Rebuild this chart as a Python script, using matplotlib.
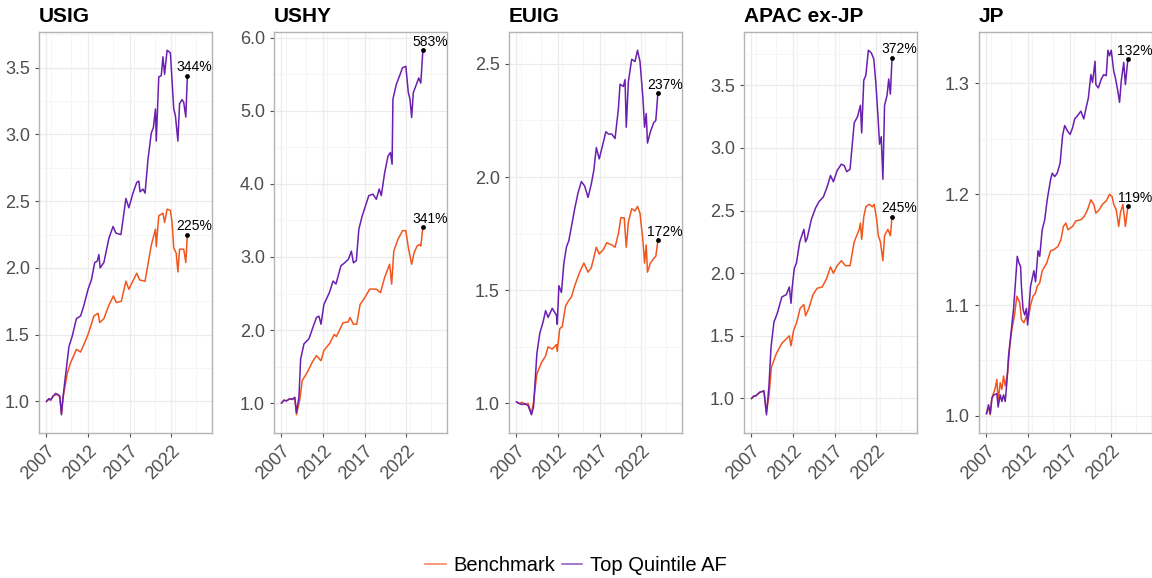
import matplotlib
matplotlib.use("Agg")
import matplotlib.pyplot as plt
from matplotlib.ticker import MultipleLocator, FormatStrFormatter
from matplotlib.lines import Line2D

plt.rcParams['font.family'] = ['Liberation Sans', 'DejaVu Sans']

# panel titles and y-tick steps
panels = ['USIG', 'USHY', 'EUIG', 'APAC ex-JP', 'JP']
y_steps = [0.5, 1.0, 0.5, 0.5, 0.1]

# ---- USIG ----
usig_top_t = [2007.0, 2007.3, 2007.5, 2007.8, 2008.1, 2008.4, 2008.6, 2008.8, 2009.0, 2009.3, 2009.7,
              2010.1, 2010.6, 2011.1, 2011.5, 2012.0, 2012.4, 2012.8, 2013.1, 2013.3, 2013.45, 2013.9,
              2014.5, 2015.0, 2015.35, 2015.95, 2016.2, 2016.55, 2016.9, 2017.4, 2017.85, 2018.1,
              2018.25, 2018.6, 2018.85, 2019.2, 2019.6, 2019.85, 2020.1, 2020.2, 2020.5, 2020.8,
              2021.0, 2021.2, 2021.5, 2021.9, 2022.1, 2022.3, 2022.5, 2022.8, 2023.0, 2023.3, 2023.5,
              2023.75, 2023.94]
usig_top = [1.00, 1.02, 1.01, 1.04, 1.06, 1.05, 1.04, 0.90, 1.04, 1.20, 1.41,
            1.49, 1.62, 1.64, 1.72, 1.84, 1.91, 2.04, 2.05, 2.10, 2.00, 2.04,
            2.22, 2.31, 2.26, 2.25, 2.36, 2.52, 2.45, 2.56, 2.64, 2.65,
            2.57, 2.59, 2.56, 2.81, 3.01, 3.05, 3.19, 2.95, 3.43, 3.44,
            3.58, 3.45, 3.63, 3.61, 3.40, 3.19, 3.14, 2.95, 3.23, 3.26, 3.24,
            3.13, 3.44]
usig_bm_t = [2007.0, 2007.3, 2007.5, 2007.8, 2008.1, 2008.4, 2008.6, 2008.8, 2009.0, 2009.5, 2009.9,
             2010.6, 2011.1, 2011.8, 2012.1, 2012.7, 2013.2, 2013.4, 2013.9, 2014.5, 2015.05, 2015.4,
             2016.0, 2016.55, 2016.9, 2017.85, 2018.2, 2018.85, 2019.6, 2020.1, 2020.2, 2020.5,
             2021.0, 2021.2, 2021.5, 2021.9, 2022.1, 2022.3, 2022.6, 2022.8, 2023.0, 2023.5, 2023.75,
             2023.94]
usig_bm = [1.00, 1.02, 1.01, 1.04, 1.05, 1.05, 1.03, 0.91, 1.03, 1.21, 1.29,
           1.39, 1.37, 1.47, 1.52, 1.64, 1.66, 1.59, 1.62, 1.72, 1.79, 1.74,
           1.75, 1.90, 1.84, 1.96, 1.91, 1.90, 2.17, 2.29, 2.16, 2.39,
           2.41, 2.34, 2.44, 2.43, 2.34, 2.15, 2.11, 1.97, 2.14, 2.14, 2.04,
           2.25]

# ---- USHY ----
ushy_top_t = [2007.0, 2007.3, 2007.6, 2008.0, 2008.3, 2008.6, 2008.8, 2009.1, 2009.3, 2009.7, 2010.3,
              2010.7, 2011.2, 2011.5, 2011.75, 2012.1, 2012.75, 2013.2, 2013.55, 2014.15, 2014.6,
              2015.05, 2015.4, 2015.65, 2016.0, 2016.3, 2016.7, 2017.1, 2017.5, 2018.0, 2018.4,
              2018.75, 2019.0, 2019.4, 2019.8, 2020.1, 2020.3, 2020.4, 2020.8, 2021.2, 2021.55,
              2021.95, 2022.25, 2022.45, 2022.65, 2022.85, 2023.15, 2023.5, 2023.75, 2024.0]
ushy_top = [1.00, 1.04, 1.03, 1.06, 1.05, 1.08, 0.87, 1.08, 1.60, 1.81, 1.88,
            2.01, 2.17, 2.19, 2.08, 2.35, 2.51, 2.67, 2.63, 2.88, 2.92,
            2.97, 3.08, 2.92, 2.95, 3.38, 3.56, 3.70, 3.84, 3.86, 3.79,
            3.93, 3.84, 4.15, 4.38, 4.43, 4.27, 5.16, 5.36, 5.48, 5.59,
            5.61, 5.25, 5.16, 4.91, 5.25, 5.34, 5.45, 5.38, 5.83]
ushy_bm_t = [2007.0, 2007.3, 2007.6, 2008.0, 2008.3, 2008.6, 2008.8, 2009.2, 2009.5, 2010.1, 2010.7,
             2011.2, 2011.75, 2012.1, 2012.75, 2013.35, 2013.6, 2014.4, 2015.0, 2015.25, 2015.65,
             2016.05, 2016.45, 2017.0, 2017.6, 2018.4, 2018.9, 2019.4, 2020.0, 2020.25, 2020.5,
             2021.0, 2021.55, 2021.95, 2022.25, 2022.65, 2022.95, 2023.3, 2023.6, 2023.75, 2024.0]
ushy_bm = [1.00, 1.04, 1.03, 1.06, 1.05, 1.07, 0.84, 1.05, 1.31, 1.42, 1.56,
           1.65, 1.58, 1.72, 1.81, 1.94, 1.91, 2.10, 2.11, 2.17, 2.08,
           2.08, 2.35, 2.44, 2.56, 2.56, 2.51, 2.72, 2.90, 2.63, 3.08,
           3.24, 3.36, 3.36, 3.13, 2.90, 3.06, 3.15, 3.17, 3.15, 3.41]

# ---- EUIG ----
euig_top_t = [2007.0, 2007.3, 2007.7, 2008.0, 2008.4, 2008.8, 2009.05, 2009.45, 2009.8, 2010.2, 2010.5,
              2010.8, 2011.3, 2011.8, 2011.9, 2012.1, 2012.4, 2012.7, 2013.0, 2013.3, 2013.6, 2014.0,
              2014.4, 2014.8, 2015.2, 2015.6, 2016.0, 2016.3, 2016.6, 2016.95, 2017.35, 2017.75,
              2018.05, 2018.45, 2018.85, 2019.25, 2019.45, 2019.85, 2020.05, 2020.2, 2020.45, 2020.85,
              2021.25, 2021.55, 2021.85, 2022.2, 2022.4, 2022.6, 2022.75, 2023.1, 2023.5, 2023.75, 2024.0]
euig_top = [1.007, 1.00, 0.995, 1.00, 0.99, 0.95, 0.985, 1.22, 1.31, 1.36, 1.41,
            1.38, 1.42, 1.39, 1.35, 1.52, 1.49, 1.62, 1.69, 1.72, 1.78, 1.86,
            1.93, 1.98, 1.96, 1.91, 1.97, 2.03, 2.13, 2.08, 2.14, 2.20,
            2.19, 2.19, 2.17, 2.30, 2.41, 2.40, 2.43, 2.22, 2.42, 2.52,
            2.51, 2.56, 2.51, 2.35, 2.22, 2.28, 2.15, 2.20, 2.24, 2.25, 2.37]
euig_bm_t = [2007.0, 2007.3, 2007.7, 2008.0, 2008.4, 2008.8, 2009.05, 2009.45, 2010.0, 2010.5, 2010.8,
             2011.3, 2011.8, 2011.9, 2012.2, 2012.5, 2012.9, 2013.2, 2013.6, 2014.0, 2014.6, 2015.1,
             2015.6, 2016.0, 2016.6, 2016.95, 2017.45, 2017.85, 2018.45, 2018.85, 2019.25, 2019.55,
             2019.95, 2020.2, 2020.45, 2020.85, 2021.25, 2021.55, 2021.85, 2022.2, 2022.4, 2022.6,
             2022.75, 2023.1, 2023.5, 2023.75, 2024.0]
euig_bm = [1.007, 1.00, 1.005, 0.995, 1.00, 0.956, 1.007, 1.13, 1.18, 1.21, 1.25,
           1.24, 1.26, 1.23, 1.33, 1.34, 1.43, 1.45, 1.47, 1.52, 1.58, 1.62,
           1.58, 1.60, 1.69, 1.66, 1.68, 1.71, 1.70, 1.69, 1.75, 1.82,
           1.82, 1.69, 1.80, 1.86, 1.85, 1.87, 1.84, 1.72, 1.62, 1.70,
           1.58, 1.62, 1.64, 1.65, 1.72]

# ---- APAC ex-JP ----
apac_top_t = [2007.0, 2007.3, 2007.5, 2008.0, 2008.5, 2008.8, 2009.1, 2009.35, 2009.7, 2010.1, 2010.65,
              2011.2, 2011.55, 2011.75, 2011.9, 2012.15, 2012.4, 2012.8, 2013.3, 2013.5, 2013.7,
              2014.2, 2014.7, 2015.1, 2015.65, 2016.1, 2016.5, 2016.85, 2017.3, 2017.8, 2018.15,
              2018.45, 2018.85, 2019.35, 2019.75, 2020.1, 2020.25, 2020.5, 2020.75, 2021.05, 2021.4,
              2021.7, 2021.95, 2022.2, 2022.4, 2022.6, 2022.8, 2023.0, 2023.3, 2023.5, 2023.7, 2023.9]
apac_top = [1.00, 1.02, 1.02, 1.05, 1.06, 0.87, 1.10, 1.41, 1.61, 1.68, 1.81,
            1.83, 1.89, 1.76, 1.89, 2.04, 2.08, 2.25, 2.35, 2.25, 2.28,
            2.43, 2.52, 2.57, 2.61, 2.69, 2.78, 2.73, 2.82, 2.87, 2.86,
            2.81, 2.83, 3.20, 3.25, 3.34, 3.12, 3.54, 3.58, 3.78, 3.76,
            3.71, 3.52, 3.26, 3.03, 3.09, 2.75, 3.34, 3.42, 3.55, 3.43, 3.72]
apac_bm_t = [2007.0, 2007.3, 2007.5, 2008.0, 2008.5, 2008.8, 2009.1, 2009.4, 2010.0, 2010.65, 2011.25,
             2011.55, 2011.75, 2012.05, 2012.45, 2012.85, 2013.3, 2013.5, 2013.9, 2014.4, 2014.9,
             2015.5, 2016.05, 2016.5, 2016.85, 2017.3, 2017.8, 2018.3, 2018.85, 2019.35, 2019.95,
             2020.1, 2020.25, 2020.5, 2020.75, 2021.15, 2021.55, 2021.75, 2022.05, 2022.25, 2022.5,
             2022.8, 2023.0, 2023.4, 2023.7, 2023.9]
apac_bm = [1.00, 1.02, 1.02, 1.05, 1.06, 0.89, 1.02, 1.25, 1.36, 1.44, 1.48,
           1.50, 1.42, 1.54, 1.61, 1.72, 1.75, 1.66, 1.72, 1.83, 1.88,
           1.89, 1.96, 2.05, 2.00, 2.06, 2.10, 2.06, 2.06, 2.25, 2.35,
           2.40, 2.27, 2.45, 2.53, 2.55, 2.53, 2.55, 2.43, 2.30, 2.25,
           2.10, 2.30, 2.35, 2.30, 2.45]

# ---- JP ----
jp_top_t = [2007.0, 2007.25, 2007.45, 2007.65, 2007.9, 2008.25, 2008.4, 2008.65, 2008.85, 2009.05, 2009.25,
            2009.45, 2009.65, 2009.95, 2010.25, 2010.45, 2010.7, 2010.9, 2011.1, 2011.2, 2011.4, 2011.6,
            2011.8, 2011.95, 2012.3, 2012.7, 2012.9, 2013.2, 2013.4, 2013.7, 2014.0, 2014.3, 2014.7,
            2014.9, 2015.2, 2015.5, 2015.85, 2016.15, 2016.4, 2016.75, 2017.05, 2017.35, 2017.6,
            2017.95, 2018.35, 2018.7, 2018.95, 2019.25, 2019.55, 2019.75, 2020.05, 2020.15, 2020.45,
            2020.8, 2021.1, 2021.4, 2021.6, 2021.8, 2022.0, 2022.3, 2022.5, 2022.75, 2023.0, 2023.2,
            2023.5, 2023.7, 2024.0]
jp_top = [1.002, 1.010, 1.002, 1.016, 1.019, 1.020, 1.008, 1.019, 1.013, 1.019, 1.013,
          1.030, 1.054, 1.075, 1.096, 1.117, 1.144, 1.138, 1.135, 1.117, 1.096, 1.091,
          1.097, 1.082, 1.117, 1.131, 1.121, 1.149, 1.144, 1.168, 1.177, 1.195, 1.213,
          1.219, 1.216, 1.219, 1.228, 1.253, 1.262, 1.257, 1.254, 1.260, 1.268,
          1.271, 1.275, 1.268, 1.277, 1.287, 1.308, 1.301, 1.320, 1.299, 1.296,
          1.304, 1.308, 1.307, 1.330, 1.325, 1.330, 1.311, 1.305, 1.295, 1.283, 1.302,
          1.319, 1.299, 1.322]
jp_bm_t = [2007.0, 2007.25, 2007.45, 2007.65, 2008.05, 2008.25, 2008.4, 2008.65, 2008.85, 2009.05, 2009.25,
           2009.55, 2009.8, 2010.05, 2010.35, 2010.65, 2011.0, 2011.2, 2011.5, 2011.8, 2012.0, 2012.3,
           2012.6, 2012.9, 2013.1, 2013.4, 2013.7, 2014.25, 2014.7, 2015.1, 2015.6, 2015.95, 2016.25,
           2016.55, 2016.8, 2017.35, 2017.75, 2018.35, 2018.75, 2019.15, 2019.55, 2019.9, 2020.15,
           2020.55, 2020.95, 2021.4, 2021.8, 2022.1, 2022.3, 2022.6, 2022.9, 2023.1, 2023.4, 2023.7,
           2024.0]
jp_bm = [1.002, 1.008, 1.001, 1.016, 1.025, 1.033, 1.013, 1.030, 1.024, 1.036, 1.027,
         1.039, 1.063, 1.078, 1.090, 1.108, 1.102, 1.087, 1.084, 1.090, 1.087, 1.100,
         1.108, 1.111, 1.117, 1.120, 1.131, 1.138, 1.149, 1.150, 1.153, 1.159, 1.171,
         1.174, 1.168, 1.171, 1.176, 1.177, 1.180, 1.186, 1.195, 1.191, 1.183,
         1.186, 1.191, 1.194, 1.200, 1.198, 1.191, 1.186, 1.171, 1.183, 1.191, 1.171,
         1.189]

series = [
    (usig_top_t, usig_top, usig_bm_t, usig_bm),
    (ushy_top_t, ushy_top, ushy_bm_t, ushy_bm),
    (euig_top_t, euig_top, euig_bm_t, euig_bm),
    (apac_top_t, apac_top, apac_bm_t, apac_bm),
    (jp_top_t, jp_top, jp_bm_t, jp_bm),
]

orange = '#F2561D'
purple = '#6A1FB0'

fig = plt.figure(figsize=(11.52, 5.78), dpi=100)

lefts = [39, 274, 509, 744, 979]
for i, name in enumerate(panels):
    ax = fig.add_axes([lefts[i] / 1152, 145 / 578, 173 / 1152, 401 / 578])
    tt, top, bt, bm = series[i]
    ax.plot(bt, bm, color=orange, lw=1.1, zorder=3)
    ax.plot(tt, top, color=purple, lw=1.1, zorder=3)

    # end labels
    for t, v in [(tt[-1], top[-1]), (bt[-1], bm[-1])]:
        ax.scatter([t], [v], s=6, color='black', zorder=4)
        ax.annotate(f"{round(v * 100):d}%", (t, v), xytext=(5, 1), textcoords='offset points',
                    ha='center', va='bottom', fontsize=10, color='black')

    ax.set_xlim(2006.1, 2026.9)
    ax.set_xticks([2007, 2012, 2017, 2022])
    ax.xaxis.set_minor_locator(MultipleLocator(2.5))
    ax.yaxis.set_major_locator(MultipleLocator(y_steps[i]))
    ax.yaxis.set_minor_locator(MultipleLocator(y_steps[i] / 2))
    ax.yaxis.set_major_formatter(FormatStrFormatter('%.1f'))
    ax.margins(y=0.05)

    ax.grid(which='major', color='#EBEBEB', lw=0.9, zorder=0)
    ax.grid(which='minor', color='#F4F4F4', lw=0.6, zorder=0)
    ax.set_axisbelow(True)
    for s in ax.spines.values():
        s.set_color('#B3B3B3')
        s.set_linewidth(1.0)
    ax.tick_params(which='major', length=3, color='#4D4D4D', labelsize=13, labelcolor='#4D4D4D')
    ax.tick_params(which='minor', length=0)
    for lab in ax.get_xticklabels():
        lab.set_rotation(45)
        lab.set_ha('right')
        lab.set_rotation_mode('anchor')
    ax.set_title(name, loc='left', fontsize=15, fontweight='bold', pad=7)

handles = [Line2D([0], [0], color=orange, lw=1.2, alpha=0.7),
           Line2D([0], [0], color=purple, lw=1.2, alpha=0.7)]
fig.legend(handles, ['Benchmark', 'Top Quintile AF'], loc='center', bbox_to_anchor=(0.5, 0.022),
           ncol=2, frameon=False, fontsize=14.5, handlelength=1.0, handletextpad=0.4, columnspacing=0.3)

fig.savefig('out.png', dpi=100)
